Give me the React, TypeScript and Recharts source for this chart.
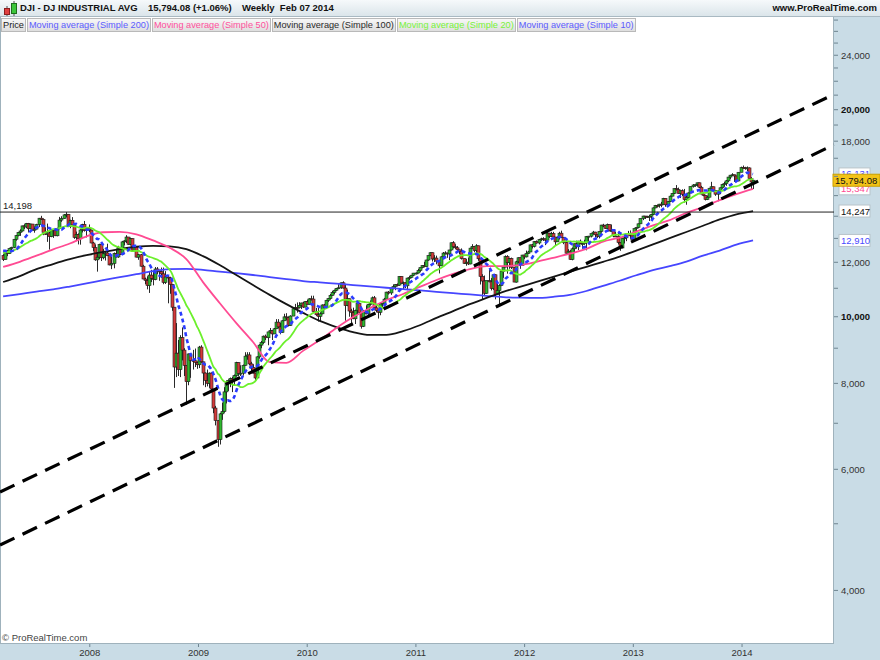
import React from "react";
import { ComposedChart, Bar, Line, XAxis, YAxis, ReferenceLine } from "recharts";

const FONT = '"Liberation Sans", Arial, Helvetica, sans-serif';

// ---------------- DATA ----------------
// weekly bars, first week ending Fri 16 Mar 2007, last week ending Fri 7 Feb 2014
const FIRST_WEEK = "2007-03-16";

// 20 weekly closes before the first drawn week (used for the 10/20 week averages)
const priorCloses = [
  12091, 11987, 12108, 12342, 12280, 12194, 12307, 12445, 12343, 12463,
  12398, 12556, 12566, 12487, 12653, 12580, 12768, 12647, 12114, 12276,
];

const closes = [
  // 2007
  12110, 12481, 12354, 12560, 12612, 12962, 13121, 13265, 13327, 13556, 13507, 13668, 13424, 13639, 13360, 13409, 13612, 13908, 13851, 13266, 13182, 13240, 13079, 13379, 13358, 13114, 13443, 13821, 13896, 14066, 14093, 13522, 13807, 13595, 13042, 13177, 12981, 13372, 13625, 13340, 13450, 13366,
  // 2008
  12800, 12606, 12099, 12207, 12743, 12183, 12348, 12381, 12266, 11894, 11951, 12361, 12216, 12609, 12325, 12849, 12891, 13058, 12745, 12986, 12480, 12638, 12209, 12307, 11843, 11346, 11289, 11100, 11496, 11370, 11326, 11734, 11659, 11628, 11544, 11220, 11422, 11388, 11143, 10325, 8451, 8852, 8378, 9325, 8943, 8497, 8046, 8829, 8635, 8629, 8579, 8515,
  // 2009
  9034, 8599, 8281, 8077, 8001, 8280, 7850, 7366, 7063, 6627, 7224, 7279, 7776, 8018, 8083, 8131, 8076, 8212, 8575, 8268, 8277, 8500, 8764, 8799, 8539, 8438, 8280, 8146, 8743, 9093, 9172, 9370, 9321, 9505, 9544, 9441, 9605, 9820, 9665, 9488, 9865, 9996, 9972, 9713, 10023, 10271, 10319, 10310, 10389, 10471, 10329, 10520, 10428,
  // 2010
  10618, 10610, 10173, 10067, 10012, 10099, 10402, 10325, 10567, 10625, 10742, 10851, 10927, 10997, 11019, 11204, 11009, 10380, 10620, 10193, 10137, 9932, 10212, 10450, 10144, 9686, 10198, 10098, 10425, 10466, 10654, 10303, 10213, 10150, 10448, 10462, 10607, 10860, 10830, 11006, 11063, 11133, 11118, 11445, 11193, 11204, 11092, 11382, 11410, 11492, 11573, 11578,
  // 2011
  11675, 11787, 11871, 11824, 12092, 12273, 12391, 12130, 12170, 12044, 11859, 12221, 12377, 12380, 12342, 12505, 12811, 12638, 12596, 12512, 12442, 12151, 11952, 12004, 11934, 12582, 12657, 12480, 12681, 12143, 11445, 11269, 10818, 11285, 11240, 10993, 11509, 10772, 10913, 11103, 11645, 11809, 12231, 11983, 12153, 11796, 11231, 12019, 12184, 11867, 12294, 12218,
  // 2012
  12360, 12422, 12720, 12660, 12862, 12801, 12950, 12983, 12978, 12922, 13233, 13081, 13212, 13060, 12850, 13029, 13228, 13038, 12820, 12369, 12455, 12119, 12554, 12767, 12640, 12880, 12772, 12777, 12822, 13076, 13096, 13207, 13275, 13158, 13090, 13306, 13593, 13579, 13437, 13610, 13328, 13343, 13107, 13093, 12815, 12588, 13010, 13026, 13155, 13135, 13190, 12938,
  // 2013
  13435, 13488, 13650, 13896, 14010, 13993, 13982, 14001, 14090, 14397, 14515, 14513, 14579, 14565, 14865, 14547, 14712, 14974, 15118, 15354, 15303, 15116, 15248, 15070, 14800, 14910, 15136, 15464, 15544, 15559, 15659, 15426, 15081, 15010, 14810, 14922, 15376, 15452, 15259, 15073, 15237, 15400, 15570, 15616, 15762, 15962, 16065, 16086, 16021, 15755, 16221, 16479, 16470,
  // 2014
  16437, 16459, 15879, 15699, 15794.08,
];

const highs = [
  // 2007
  12330, 12490, 12500, 12580, 12640, 12970, 13150, 13280, 13400, 13560, 13630, 13690, 13690, 13650, 13640, 13530, 13650, 13920, 14020, 13900, 13490, 13660, 13300, 13400, 13420, 13450, 13470, 13970, 14000, 14100, 14198, 14100, 13840, 13960, 13660, 13300, 13220, 13400, 13650, 13780, 13460, 13620,
  // 2008
  13380, 12850, 12740, 12390, 12770, 12750, 12550, 12440, 12770, 12300, 12250, 12400, 12560, 12680, 12620, 12880, 12920, 13140, 13060, 13030, 13000, 12700, 12650, 12340, 12340, 11900, 11400, 11450, 11630, 11700, 11620, 11810, 11810, 11680, 11790, 11790, 11650, 11480, 11430, 11150, 10330, 9790, 9250, 9400, 9650, 9000, 8500, 8840, 8840, 8950, 8990, 8610,
  // 2009
  9070, 9090, 8600, 8300, 8380, 8300, 8300, 7850, 7420, 7070, 7250, 7500, 7900, 8080, 8110, 8160, 8180, 8240, 8600, 8580, 8500, 8520, 8880, 8880, 8880, 8600, 8530, 8290, 8760, 9120, 9220, 9390, 9420, 9510, 9630, 9550, 9630, 9920, 9920, 9800, 9880, 10100, 10120, 10010, 10050, 10300, 10440, 10490, 10500, 10480, 10510, 10530, 10590,
  // 2010
  10640, 10730, 10730, 10300, 10300, 10150, 10420, 10440, 10580, 10640, 10790, 10900, 10950, 11010, 11150, 11210, 11260, 11160, 10950, 10630, 10270, 10310, 10240, 10500, 10460, 10150, 10220, 10390, 10430, 10560, 10700, 10720, 10420, 10240, 10460, 10470, 10650, 10870, 10900, 11030, 11140, 11150, 11180, 11450, 11450, 11250, 11220, 11390, 11460, 11500, 11580, 11600,
  // 2011
  11740, 11790, 11880, 12020, 12100, 12280, 12410, 12400, 12290, 12270, 12070, 12240, 12420, 12450, 12390, 12510, 12820, 12880, 12750, 12670, 12520, 12570, 12160, 12130, 12190, 12600, 12750, 12660, 12750, 12690, 12180, 11530, 11480, 11290, 11720, 11380, 11530, 11520, 11240, 11150, 11670, 11830, 12280, 12290, 12180, 12190, 11800, 12060, 12200, 12190, 12300, 12310,
  // 2012
  12480, 12470, 12730, 12760, 12880, 12910, 12970, 13030, 13050, 12990, 13290, 13240, 13290, 13290, 13060, 13080, 13290, 13340, 13040, 12840, 12540, 12500, 12610, 12780, 12900, 12890, 12950, 12790, 12940, 13100, 13110, 13210, 13330, 13290, 13170, 13310, 13600, 13650, 13580, 13660, 13620, 13610, 13350, 13290, 13290, 12830, 13020, 13090, 13160, 13330, 13350, 13190,
  // 2013
  13440, 13490, 13660, 13900, 14020, 14010, 14020, 14060, 14100, 14420, 14540, 14560, 14590, 14690, 14890, 14870, 14730, 15010, 15130, 15360, 15540, 15410, 15260, 15320, 15340, 15050, 15160, 15470, 15590, 15570, 15660, 15670, 15500, 15120, 15020, 15000, 15390, 15710, 15460, 15270, 15260, 15410, 15600, 15710, 15800, 15970, 16070, 16170, 16090, 16030, 16230, 16530, 16590,
  // 2014
  16520, 16540, 16490, 15960, 15800,
];

const lows = [
  // 2007
  12050, 12100, 12250, 12340, 12470, 12580, 12900, 13090, 13110, 13300, 13410, 13460, 13260, 13420, 13350, 13250, 13400, 13500, 13830, 13140, 13150, 12850, 12520, 13050, 13020, 13100, 13090, 13400, 13740, 13880, 13950, 13500, 13450, 13530, 12980, 12880, 12740, 12730, 13260, 13300, 13040, 13280,
  // 2008
  12790, 12450, 12060, 11630, 12130, 12050, 12120, 12070, 12250, 11880, 11730, 11760, 12200, 12180, 12300, 12310, 12700, 12800, 12730, 12700, 12460, 12420, 12200, 12100, 11830, 11340, 11150, 10960, 10830, 11230, 11110, 11300, 11530, 11280, 11390, 11150, 11160, 10460, 10800, 10200, 7880, 8170, 8200, 8170, 8640, 8200, 7450, 7950, 8150, 8380, 8450, 8400,
  // 2009
  8420, 8570, 7950, 7900, 7920, 7880, 7800, 7240, 6950, 6470, 6520, 7080, 7250, 7480, 7800, 7900, 7770, 7960, 8180, 8200, 8200, 8210, 8490, 8660, 8500, 8300, 8270, 8090, 8140, 8690, 9000, 9130, 9250, 9090, 9450, 9250, 9440, 9600, 9620, 9430, 9480, 9860, 9880, 9680, 9700, 10020, 10250, 10140, 10280, 10260, 10300, 10320, 10420,
  // 2010
  10410, 10560, 10140, 10030, 9840, 9840, 10080, 10240, 10300, 10510, 10590, 10730, 10780, 10900, 10980, 10980, 10990, 9870, 10360, 10000, 9770, 9920, 9760, 10060, 10100, 9610, 9660, 10080, 10060, 10380, 10460, 10260, 10150, 9940, 10050, 10320, 10450, 10590, 10770, 10760, 10960, 10930, 11070, 11090, 11170, 10950, 11010, 10930, 11300, 11380, 11460, 11520,
  // 2011
  11560, 11620, 11760, 11800, 11800, 12060, 12250, 12030, 12010, 11920, 11560, 11850, 12200, 12320, 12180, 12090, 12480, 12570, 12550, 12430, 12330, 12110, 11940, 11860, 11890, 11920, 12560, 12410, 12390, 12060, 11140, 10600, 10720, 10800, 11220, 10920, 10940, 10600, 10770, 10400, 11080, 11390, 11800, 11550, 11740, 11730, 11230, 11210, 11960, 11740, 11860, 12130,
  // 2012
  12200, 12340, 12420, 12570, 12610, 12770, 12740, 12890, 12890, 12710, 12920, 13020, 13060, 13050, 12710, 12850, 12950, 13030, 12750, 12350, 12360, 12100, 12080, 12400, 12560, 12500, 12760, 12560, 12720, 12490, 12840, 13040, 13160, 13050, 13020, 13000, 13250, 13500, 13420, 13430, 13320, 13310, 13050, 13080, 12740, 12470, 12570, 12780, 12880, 13120, 12960, 12880,
  // 2013
  12920, 13320, 13450, 13640, 13820, 13870, 13920, 13780, 13850, 14060, 14380, 14420, 14410, 14430, 14560, 14450, 14540, 14690, 14970, 15080, 15260, 15100, 14880, 14980, 14650, 14550, 14860, 15120, 15410, 15450, 15460, 15390, 15070, 14970, 14760, 14780, 14920, 15360, 15220, 14990, 14720, 15080, 15350, 15450, 15500, 15700, 15850, 16020, 15700, 15700, 15740, 16220, 16440,
  // 2014
  16360, 16280, 15870, 15340, 15340,
];

// long moving averages, one value every 8 weeks
const MA_STEP = 8;
const ma50 = [
  11813, 12020, 12270, 12530, 12780, 13090, 13270, 13290, 13180, 12910, 12600, 12130, 11230, 10470, 9790, 9190,
  8590, 8570, 8920, 9250, 9630, 9990, 10290, 10575, 10790, 11050, 11310, 11540, 11730, 11850, 11850, 11890,
  12020, 12180, 12350, 12550, 12860, 13030, 13300, 13580, 13820, 14160, 14440, 14780, 15080, 15347,
];
const ma100 = [
  11234, 11460, 11730, 11930, 12130, 12290, 12420, 12540, 12640, 12680, 12660, 12540, 12250, 11890, 11500, 11120,
  10760, 10430, 10130, 9860, 9660, 9500, 9410, 9410, 9530, 9720, 9960, 10190, 10430, 10650, 10870, 11050,
  11240, 11430, 11620, 11820, 12020, 12230, 12480, 12740, 13010, 13280, 13560, 13850, 14090, 14247,
];
const ma200 = [
  10707, 10790, 10880, 10960, 11065, 11180, 11300, 11415, 11530, 11650, 11730, 11740, 11700, 11630, 11570, 11500,
  11420, 11340, 11270, 11220, 11170, 11120, 11070, 11020, 10970, 10920, 10870, 10820, 10775, 10725, 10680, 10660,
  10650, 10690, 10760, 10900, 11090, 11280, 11490, 11690, 11850, 12030, 12270, 12480, 12730, 12910,
];

// channel lines (time in years, price)
const channelTimes = [2007.174, 2014.846];
const channelUpper = [5561, 21060];
const channelLower = [4656, 17787];
const allTimeHigh = 14198;

// axis ticks
const yearTicks = [2008, 2009, 2010, 2011, 2012, 2013, 2014];
const priceTicks = [
  4000, 5000, 6000, 7000, 8000, 9000, 10000, 11000, 12000, 13000, 14000, 15000, 16000, 17000, 18000,
  19000, 20000, 21000, 22000, 23000, 24000, 25000, 26000, 27000,
];
const priceTickLabels: Record<number, string> = {
  4000: "4,000", 6000: "6,000", 8000: "8,000", 10000: "10,000", 12000: "12,000",
  18000: "18,000", 20000: "20,000", 24000: "24,000",
};
const boldPriceTicks = [10000, 20000];

// last values shown in the right axis
const lastSma10Label = "16,131";
const lastSma10 = 16131;
const lastSma50Label = "15,347";
const lastSma100Label = "14,247";
const lastSma200Label = "12,910";
const lastPriceLabel = "15,794.08";

const legendItems = [
  { text: "Price", color: "#222222" },
  { text: "Moving average (Simple 200)", color: "#5b5bff" },
  { text: "Moving average (Simple 50)", color: "#ff4f9c" },
  { text: "Moving average (Simple 100)", color: "#2a2a2a" },
  { text: "Moving average (Simple 20)", color: "#77f238" },
  { text: "Moving average (Simple 10)", color: "#5b5bff" },
];

// ---------------- LAYOUT ----------------
const W = 880;
const H = 660;
const TOP = 17;
const AXIS_W = 46;
const AXIS_H = 16;
const PLOT_W = W - AXIS_W;
const PANEL = "#c9dce6";

const X_DOMAIN: [number, number] = [2007.174, 2014.846];
const Y_DOMAIN: [number, number] = [3343, 27280];

const COLORS = {
  ma200: "#4646ff",
  ma50: "#ff4b93",
  ma100: "#151515",
  ma20: "#6cf02c",
  ma10: "#2b3cff",
};

function decimalYear(ms: number) {
  const d = new Date(ms);
  const y = d.getUTCFullYear();
  const s = Date.UTC(y, 0, 1);
  const e = Date.UTC(y + 1, 0, 1);
  return y + (ms - s) / (e - s);
}

const firstMs = Date.parse(FIRST_WEEK);
const WEEK_MS = 7 * 86400000;
const allCloses = [...priorCloses, ...closes];
function sma(n: number, i: number) {
  const end = i + priorCloses.length;
  let s = 0;
  for (let k = end - n + 1; k <= end; k++) s += allCloses[k];
  return s / n;
}

const rows = closes.map((close, i) => {
  const open = i === 0 ? priorCloses[priorCloses.length - 1] : closes[i - 1];
  const high = Math.max(highs[i], open, close);
  const low = Math.min(lows[i], open, close);
  const onStep = i % MA_STEP === 0;
  return {
    t: decimalYear(firstMs + i * WEEK_MS),
    open,
    close,
    high,
    low,
    range: [low, high],
    sma10: sma(10, i),
    sma20: sma(20, i),
    ma50: onStep ? ma50[i / MA_STEP] : undefined,
    ma100: onStep ? ma100[i / MA_STEP] : undefined,
    ma200: onStep ? ma200[i / MA_STEP] : undefined,
  };
});

// ---------------- RENDER PARTS ----------------
const Candle = (props: any) => {
  const { x, y, width, height, payload } = props;
  if (!payload || x == null || y == null || height == null) return null;
  const yHigh = Math.min(y, y + height);
  const yLow = Math.max(y, y + height);
  const cx = Math.round(x + width / 2) + 0.5;
  const lh = Math.log(payload.high);
  const ll = Math.log(payload.low);
  const span = lh - ll || 1;
  const pos = (v: number) => yHigh + ((yLow - yHigh) * (lh - Math.log(v))) / span;
  const yo = pos(payload.open);
  const yc = pos(payload.close);
  const top = Math.min(yo, yc);
  const bot = Math.max(yo, yc);
  const up = payload.close >= payload.open;
  return (
    <g>
      <line x1={cx} x2={cx} y1={yHigh} y2={yLow} stroke="#2a2a2a" strokeWidth={1} />
      <rect
        x={cx - 1.5}
        y={top}
        width={3}
        height={Math.max(1, bot - top)}
        fill={up ? "#2fb82f" : "#d43a3a"}
        stroke="#1a1a1a"
        strokeWidth={0.6}
      />
    </g>
  );
};

const YTick = (props: any) => {
  const { x, y, payload } = props;
  const v = payload && payload.value;
  const label = priceTickLabels[v];
  return (
    <g>
      <line x1={x} x2={x + 4} y1={y} y2={y} stroke="#6f8591" strokeWidth={1} />
      {label ? (
        <text
          x={x + 7}
          y={y + 3.5}
          fontSize={9.5}
          fontFamily={FONT}
          fontWeight={boldPriceTicks.includes(v) ? 700 : 400}
          fill={boldPriceTicks.includes(v) ? "#111" : "#333"}
        >
          {label}
        </text>
      ) : null}
    </g>
  );
};

const XTick = (props: any) => {
  const { x, y, payload } = props;
  return (
    <g>
      <line x1={x} x2={x} y1={y} y2={y + 3} stroke="#6f8591" strokeWidth={1} />
      <text x={x} y={y + 12} textAnchor="middle" fontSize={9.5} fontFamily={FONT} fill="#333">
        {payload.value}
      </text>
    </g>
  );
};

function valueBox(text: string, color: string, bg: string, border: string, dx: number, w: number) {
  return (props: any) => {
    const vb = props.viewBox;
    if (!vb) return null;
    const x = vb.x + vb.width;
    const y = vb.y;
    return (
      <g>
        <rect x={x + dx} y={y - 6} width={w} height={12} fill={bg} stroke={border} strokeWidth={1} />
        <text x={x + dx + 2} y={y + 3.5} fontSize={9.5} fontFamily={FONT} fill={color}>
          {text}
        </text>
      </g>
    );
  };
}

const athLabel = (props: any) => {
  const vb = props.viewBox;
  if (!vb) return null;
  return (
    <text x={vb.x + 3} y={vb.y - 3} fontSize={9.5} fontFamily={FONT} fill="#222">
      14,198
    </text>
  );
};

const CandleIcon = () => (
  <svg width={16} height={16} style={{ position: "absolute", left: 2, top: 1 }}>
    <line x1={5} x2={5} y1={5} y2={15} stroke="#555" />
    <rect x={2.5} y={7.5} width={5} height={6} fill="#e04040" stroke="#8a2020" />
    <line x1={12} x2={12} y1={0} y2={15} stroke="#555" />
    <rect x={9.5} y={2.5} width={5} height={10} fill="#3cc63c" stroke="#1d6e1d" />
  </svg>
);

export default function App() {
  return (
    <div
      style={{
        position: "absolute",
        left: 0,
        top: 0,
        width: W,
        height: H,
        background: PANEL,
        overflow: "hidden",
        fontFamily: FONT,
      }}
    >
      {/* plot background */}
      <div
        style={{
          position: "absolute",
          left: 0,
          top: TOP,
          width: PLOT_W,
          height: H - TOP - AXIS_H,
          background: "#ffffff",
          borderLeft: "1px solid #9fb2bc",
          borderRight: "1px solid #9fb2bc",
          borderBottom: "1px solid #9fb2bc",
          boxSizing: "border-box",
        }}
      />
      <div style={{ position: "absolute", left: 0, top: 0 }}>
        <ComposedChart
          width={W}
          height={H}
          data={rows}
          margin={{ top: TOP, right: 0, bottom: 0, left: 0 }}
        >
          <XAxis
            dataKey="t"
            type="number"
            domain={X_DOMAIN}
            allowDataOverflow
            ticks={yearTicks}
            interval={0}
            height={AXIS_H}
            axisLine={false}
            tickLine={false}
            tickSize={0}
            tickMargin={0}
            tick={<XTick />}
          />
          <YAxis
            orientation="right"
            type="number"
            scale="log"
            domain={Y_DOMAIN}
            allowDataOverflow
            ticks={priceTicks}
            interval={0}
            width={AXIS_W}
            axisLine={false}
            tickLine={false}
            tickSize={0}
            tickMargin={0}
            tick={<YTick />}
          />
          <Bar dataKey="range" barSize={2} shape={(p: any) => <Candle {...p} />} isAnimationActive={false} />
          <Line dataKey="ma200" type="monotone" stroke={COLORS.ma200} strokeWidth={1.8} dot={false} connectNulls isAnimationActive={false} />
          <Line dataKey="ma100" type="monotone" stroke={COLORS.ma100} strokeWidth={1.8} dot={false} connectNulls isAnimationActive={false} />
          <Line dataKey="ma50" type="monotone" stroke={COLORS.ma50} strokeWidth={1.8} dot={false} connectNulls isAnimationActive={false} />
          <Line dataKey="sma20" type="monotone" stroke={COLORS.ma20} strokeWidth={1.8} dot={false} isAnimationActive={false} />
          <Line dataKey="sma10" type="monotone" stroke={COLORS.ma10} strokeWidth={2.6} strokeDasharray="4 3" dot={false} isAnimationActive={false} />
          <ReferenceLine
            segment={[
              { x: channelTimes[0], y: channelUpper[0] },
              { x: channelTimes[1], y: channelUpper[1] },
            ]}
            stroke="#000"
            strokeWidth={3.2}
            strokeDasharray="16 9"
            ifOverflow="visible"
          />
          <ReferenceLine
            segment={[
              { x: channelTimes[0], y: channelLower[0] },
              { x: channelTimes[1], y: channelLower[1] },
            ]}
            stroke="#000"
            strokeWidth={3.2}
            strokeDasharray="16 9"
            ifOverflow="visible"
          />
          <ReferenceLine y={allTimeHigh} stroke="#222" strokeWidth={1} label={athLabel} />
          <ReferenceLine y={ma200[ma200.length - 1]} stroke="none" label={valueBox(lastSma200Label, "#4a4aff", "#fff", "#b8c4ca", 5, 31)} />
          <ReferenceLine y={ma100[ma100.length - 1]} stroke="none" label={valueBox(lastSma100Label, "#111", "#fff", "#b8c4ca", 5, 31)} />
          <ReferenceLine y={lastSma10} stroke="none" label={valueBox(lastSma10Label, "#4a4aff", "#fff", "#b8c4ca", 5, 31)} />
          <ReferenceLine y={ma50[ma50.length - 1]} stroke="none" label={valueBox(lastSma50Label, "#ff4b93", "#fff", "#b8c4ca", 5, 31)} />
          <ReferenceLine y={closes[closes.length - 1]} stroke="none" label={valueBox(lastPriceLabel, "#111", "#f3c318", "#c9a000", -1, 47)} />
        </ComposedChart>
      </div>

      {/* header bar */}
      <div
        style={{
          position: "absolute",
          left: 0,
          top: 0,
          width: W,
          height: TOP,
          background: "linear-gradient(#f6f9fb, #dbe5ea)",
          borderBottom: "1px solid #a9b9c2",
          boxSizing: "border-box",
          fontSize: 9.5,
          fontWeight: 700,
          color: "#111",
          lineHeight: "16px",
        }}
      >
        <CandleIcon />
        <span style={{ position: "absolute", left: 20, top: 0 }}>DJI - DJ INDUSTRIAL AVG</span>
        <span style={{ position: "absolute", left: 148, top: 0 }}>15,794.08 (+1.06%)</span>
        <span style={{ position: "absolute", left: 242, top: 0, whiteSpace: "pre" }}>Weekly  Feb 07 2014</span>
        <span style={{ position: "absolute", right: 3, top: 0 }}>www.ProRealTime.com</span>
      </div>

      {/* series legend */}
      <div style={{ position: "absolute", left: 1, top: TOP + 1, display: "flex", gap: 1 }}>
        {legendItems.map((it) => (
          <div
            key={it.text}
            style={{
              height: 12,
              lineHeight: "12px",
              padding: "0 1px",
              fontSize: 9.2,
              color: it.color,
              background: "linear-gradient(#f7f7f7, #dedede)",
              border: "1px solid #b9b9b9",
              whiteSpace: "nowrap",
            }}
          >
            {it.text}
          </div>
        ))}
      </div>

      <div style={{ position: "absolute", left: 2, top: H - AXIS_H - 12, fontSize: 9.5, color: "#444" }}>
        © ProRealTime.com
      </div>
    </div>
  );
}
